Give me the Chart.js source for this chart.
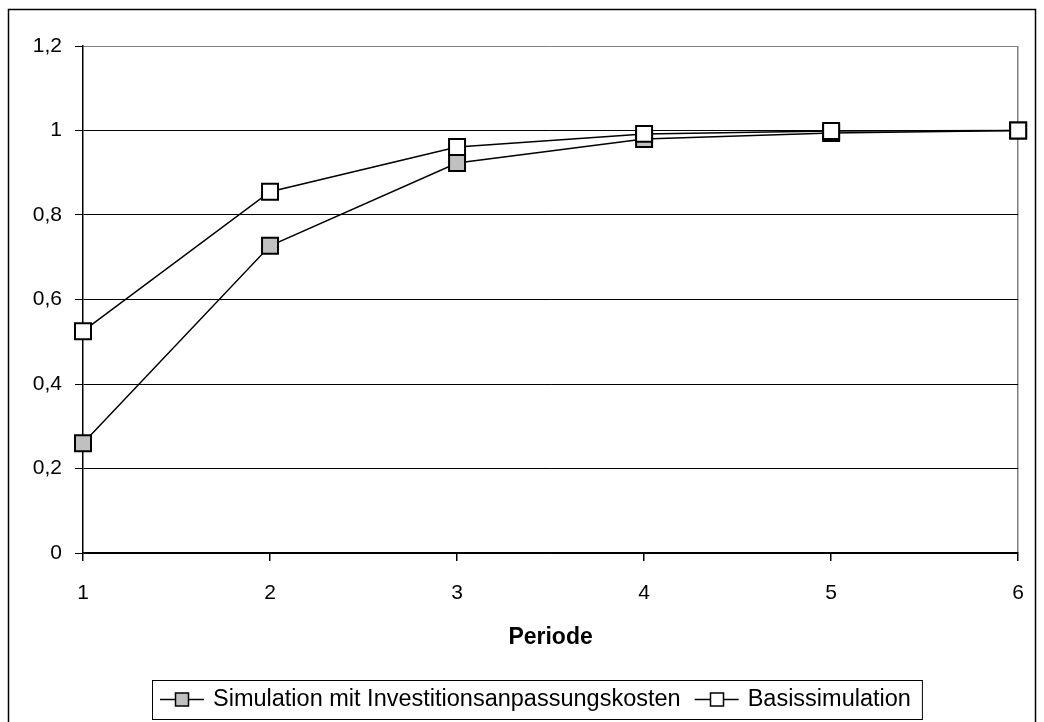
<!DOCTYPE html>
<html>
<head>
<meta charset="utf-8">
<script src="https://cdn.jsdelivr.net/npm/chart.js@4.4.1/dist/chart.umd.min.js"></script>
<style>
  html, body { margin: 0; padding: 0; background: #fff; }
  #wrap { width: 1044px; height: 722px; position: relative; }
</style>
</head>
<body>
<div id="wrap"><canvas id="chart" width="1044" height="722"></canvas></div>
<script>
const periods = ['1', '2', '3', '4', '5', '6'];
const investCost = [0.26, 0.727, 0.923, 0.98, 0.994, 1.0];
const baseSim = [0.525, 0.855, 0.961, 0.992, 0.999, 1.0];
const yTicks = [0, 0.2, 0.4, 0.6, 0.8, 1.0, 1.2];

const FONT = "'Liberation Sans', Arial, sans-serif";

// outer frame around the whole chart
const frame = {
  id: 'frame',
  beforeDraw(chart) {
    const ctx = chart.ctx;
    ctx.save();
    ctx.fillStyle = '#fff';
    ctx.fillRect(0, 0, chart.width, chart.height);
    ctx.strokeStyle = '#000';
    ctx.lineWidth = 1.5;
    ctx.strokeRect(8.5, 9.5, 1027, 730);
    ctx.restore();
  }
};

// Excel-style legend: line with marker, inside a box
const boxLegend = {
  id: 'boxLegend',
  afterDraw(chart) {
    const ctx = chart.ctx;
    const sets = chart.data.datasets;
    ctx.save();
    ctx.font = '23.5px ' + FONT;
    ctx.textBaseline = 'middle';
    const lineLen = 44, gap = 9, spacing = 14;
    let x = 160;
    const y = 699;
    const start = x;
    sets.forEach(ds => {
      ctx.strokeStyle = '#000';
      ctx.lineWidth = 1.5;
      ctx.beginPath();
      ctx.moveTo(x, y + 0.5);
      ctx.lineTo(x + lineLen, y + 0.5);
      ctx.stroke();
      const mx = Math.round(x + lineLen / 2);
      ctx.fillStyle = ds.pointBackgroundColor;
      ctx.fillRect(mx - 6.5, y - 6, 13, 13);
      ctx.lineWidth = 1.5;
      ctx.strokeRect(mx - 6.5, y - 6, 13, 13);
      ctx.fillStyle = '#000';
      ctx.fillText(ds.label, x + lineLen + gap, y + 1);
      x += lineLen + gap + ctx.measureText(ds.label).width + spacing;
    });
    ctx.strokeStyle = '#000';
    ctx.lineWidth = 1;
    ctx.strokeRect(start - 7.5, 680.5, x - spacing + 12 - start + 7, 39);
    ctx.restore();
  }
};

new Chart(document.getElementById('chart'), {
  type: 'line',
  data: {
    labels: periods,
    datasets: [
      {
        label: 'Simulation mit Investitionsanpassungskosten',
        data: investCost,
        borderColor: '#000',
        borderWidth: 1.5,
        pointStyle: 'rect',
        pointRadius: 11.3,
        pointBorderWidth: 2,
        pointBorderColor: '#000',
        pointBackgroundColor: '#c0c0c0',
        tension: 0,
        order: 2
      },
      {
        label: 'Basissimulation',
        data: baseSim,
        borderColor: '#000',
        borderWidth: 1.5,
        pointStyle: 'rect',
        pointRadius: 11.3,
        pointBorderWidth: 2,
        pointBorderColor: '#000',
        pointBackgroundColor: '#ffffff',
        tension: 0,
        order: 1
      }
    ]
  },
  options: {
    responsive: false,
    animation: false,
    layout: { padding: { top: 46, right: 20, bottom: 0, left: 0 } },
    plugins: {
      legend: { display: false },
      tooltip: { enabled: false }
    },
    scales: {
      x: {
        offset: false,
        afterFit(scale) { scale.height = 169; },
        grid: {
          drawOnChartArea: true,
          color: c => c.index === periods.length - 1 ? '#808080' : 'rgba(0,0,0,0)',
          tickColor: '#000',
          tickLength: 8,
          lineWidth: 1.5
        },
        border: { color: '#000', width: 1.5 },
        ticks: {
          color: '#000',
          padding: 20,
          maxRotation: 0,
          font: { family: FONT, size: 21 }
        },
        title: {
          display: true,
          text: 'Periode',
          color: '#000',
          padding: { top: 0, bottom: 71 },
          font: { family: FONT, size: 23, weight: 'bold' }
        }
      },
      y: {
        min: 0,
        max: 1.2,
        afterFit(scale) { scale.width = 83; },
        afterBuildTicks(scale) { scale.ticks = yTicks.map(v => ({ value: v })); },
        grid: {
          color: c => (c.tick && c.tick.value === 1.2) ? '#808080' : '#000',
          tickColor: '#000',
          tickLength: 8,
          lineWidth: 1
        },
        border: { color: '#000', width: 1.5 },
        ticks: {
          color: '#000',
          padding: 13,
          font: { family: FONT, size: 21 },
          callback: v => String(Math.round(v * 10) / 10).replace('.', ',')
        }
      }
    }
  },
  plugins: [frame, boxLegend]
});
</script>
</body>
</html>
